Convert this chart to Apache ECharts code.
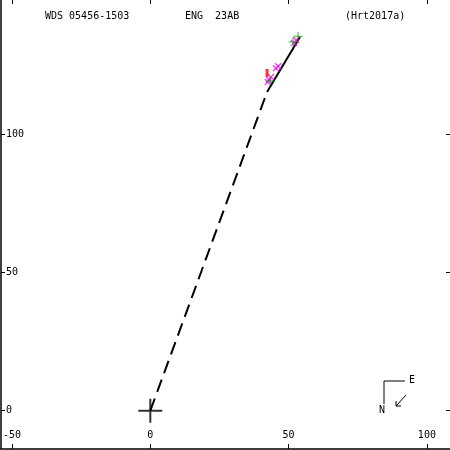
<!DOCTYPE html>
<html><head><meta charset="utf-8">
<script src="https://cdn.jsdelivr.net/npm/echarts@6/dist/echarts.min.js"></script>
<style>html,body{margin:0;padding:0;background:#fff}#c{width:450px;height:450px}</style>
</head><body><div id="c"></div>
<script>
// ---- data ----
const xTicks = [-50, 0, 50, 100];
const yTicks = [0, 50, 100];
const origin = [[0, 0]];
const dashedLine = [[0, 0], [42.2, 115.2]];
const solidLine = [[42.2, 115.2], [54.1, 135.1]];
const magentaPts = [[42.5, 118.8], [42.9, 119.6], [43.6, 120.6], [45.4, 123.8], [46.2, 124.5], [51.9, 132.9], [52.7, 134.0]];
const greenPts = [[43.3, 119.2], [51.6, 133.3], [53.4, 135.4]];
const redPts = [[42.2, 122.1]];
const titleLeft = 'WDS 05456-1503';
const titleMid = 'ENG  23AB';
const titleRight = '(Hrt2017a)';

const X_MIN = -53.98, X_MAX = 108.35, Y_MIN = -13.85, Y_MAX = 148.48;
const FONT = 'DejaVu Sans Mono';

const chart = echarts.init(document.getElementById('c'), null, {renderer: 'canvas'});
const plusPath = 'path://M0,11L24,11L24,13L0,13Z M11,0L13,0L13,24L11,24Z';
const xPath = 'path://M0,1L1,0L8,7L7,8Z M7,0L8,1L1,8L0,7Z';
const greenPlus = 'path://M0,4L9,4L9,5L0,5Z M4,0L5,0L5,9L4,9Z';
const redBar = 'path://M0,0L3,0L3,9L0,9Z';

chart.setOption({
  animation: false,
  backgroundColor: '#fff',
  grid: {left: 1, right: 0, top: 0, bottom: 1, containLabel: false},
  xAxis: [{
    type: 'value', min: X_MIN, max: X_MAX, position: 'bottom',
    axisLine: {show: true, onZero: false, lineStyle: {color: '#000', width: 1.5}},
    axisTick: {show: true, inside: true, length: 5, customValues: xTicks, lineStyle: {color: '#000'}},
    axisLabel: {show: true, inside: true, margin: 9, customValues: xTicks, color: '#000', fontFamily: FONT, fontSize: 10},
    splitLine: {show: false}
  }, {
    type: 'value', min: X_MIN, max: X_MAX, position: 'top',
    axisLine: {show: false, onZero: false},
    axisTick: {show: true, inside: true, length: 4, customValues: xTicks, lineStyle: {color: '#000'}},
    axisLabel: {show: false},
    splitLine: {show: false}
  }],
  yAxis: [{
    type: 'value', min: Y_MIN, max: Y_MAX, position: 'left',
    axisLine: {show: true, onZero: false, lineStyle: {color: '#000', width: 1.5}},
    axisTick: {show: true, inside: true, length: 4, customValues: yTicks, lineStyle: {color: '#000'}},
    axisLabel: {show: true, inside: true, margin: 5, customValues: yTicks, color: '#000', fontFamily: FONT, fontSize: 10},
    splitLine: {show: false}
  }, {
    type: 'value', min: Y_MIN, max: Y_MAX, position: 'right',
    axisLine: {show: false, onZero: false},
    axisTick: {show: true, inside: true, length: 4, customValues: yTicks, lineStyle: {color: '#000'}},
    axisLabel: {show: false},
    splitLine: {show: false}
  }],
  series: [
    {type: 'line', data: dashedLine, symbol: 'none', lineStyle: {color: '#000', width: 2, type: [13, 7]}, z: 2},
    {type: 'line', data: solidLine, symbol: 'none', lineStyle: {color: '#000', width: 2}, z: 2},
    {type: 'scatter', data: magentaPts, symbol: xPath, symbolSize: 7, itemStyle: {color: '#ff00ff'}, z: 3},
    {type: 'scatter', data: redPts, symbol: redBar, symbolSize: [3, 8], itemStyle: {color: '#ff0000'}, z: 3},
    {type: 'scatter', data: greenPts, symbol: greenPlus, symbolSize: 9, itemStyle: {color: '#00a000'}, z: 4},
    {type: 'scatter', data: origin, symbol: plusPath, symbolSize: 24, itemStyle: {color: '#000'}, z: 4}
  ],
  graphic: [
    {type: 'text', left: 45, top: 11, style: {text: titleLeft, fill: '#000', font: '10px "' + FONT + '"'}},
    {type: 'text', left: 185, top: 11, style: {text: titleMid, fill: '#000', font: '10px "' + FONT + '"'}},
    {type: 'text', left: 345, top: 11, style: {text: titleRight, fill: '#000', font: '10px "' + FONT + '"'}},
    // compass
    {type: 'polyline', shape: {points: [[384, 404], [384, 381], [405, 381]]}, style: {stroke: '#000', lineWidth: 1, fill: null}},
    {type: 'text', x: 409, y: 375, style: {text: 'E', fill: '#000', font: '10px "' + FONT + '"'}},
    {type: 'text', x: 379, y: 405, style: {text: 'N', fill: '#000', font: '10px "' + FONT + '"'}},
    {type: 'line', shape: {x1: 406, y1: 395, x2: 396, y2: 406}, style: {stroke: '#000', lineWidth: 1}},
    {type: 'polyline', shape: {points: [[396, 401], [396, 406], [401, 406]]}, style: {stroke: '#000', lineWidth: 1, fill: null}}
  ]
});
</script></body></html>
